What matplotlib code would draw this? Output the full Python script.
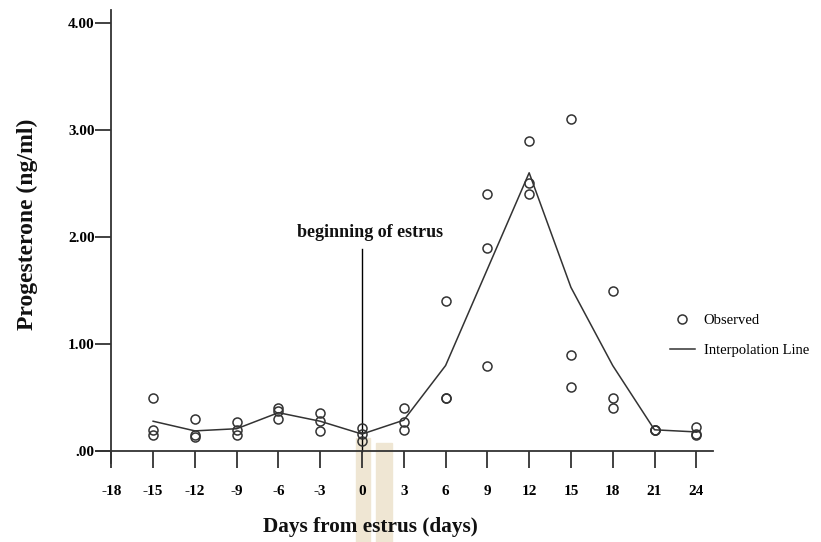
import matplotlib
matplotlib.use("Agg")
import matplotlib.pyplot as plt
from matplotlib.lines import Line2D
from matplotlib.patches import Rectangle

# ---- data ----
days = [-15, -12, -9, -6, -3, 0, 3, 6, 9, 12, 15, 18, 21, 24]
obs_a = [0.50, 0.30, 0.27, 0.40, 0.36, 0.22, 0.40, 1.40, 2.40, 2.90, 3.10, 1.50, 0.20, 0.23]
obs_b = [0.20, 0.15, 0.20, 0.38, 0.28, 0.16, 0.27, 0.50, 1.90, 2.50, 0.90, 0.50, 0.20, 0.15]
obs_c = [0.15, 0.13, 0.15, 0.30, 0.19, 0.10, 0.20, 0.50, 0.80, 2.40, 0.60, 0.40, 0.20, 0.16]
interp = [0.28, 0.19, 0.21, 0.36, 0.28, 0.16, 0.29, 0.80, 1.70, 2.60, 1.53, 0.80, 0.20, 0.18]
x_ticks = [-18, -15, -12, -9, -6, -3, 0, 3, 6, 9, 12, 15, 18, 21, 24]
y_ticks = [0, 1, 2, 3, 4]
y_tick_labels = [".00", "1.00", "2.00", "3.00", "4.00"]
estrus_day = 0
estrus_line_top = 1.89

W, H = 821, 542
fig = plt.figure(figsize=(W / 100, H / 100), dpi=100)
serif = ["Liberation Serif", "DejaVu Serif"]

# watermark-like beige bars (background artefact in the reference)
for x0, x1, y0 in [(356, 370, 438), (376, 392, 443)]:
    fig.patches.append(Rectangle((x0 / W, 0), (x1 - x0) / W, (H - y0) / H,
                                 transform=fig.transFigure, color="#efe6d3",
                                 zorder=-5))

ax = fig.add_axes([96 / W, (H - 463) / H, (713 - 96) / W, (463 - 10) / H])
ax.set_zorder(1)
ax.patch.set_alpha(0)
ax.set_xlim(-19.1, 25.2)
ax.set_ylim(-0.11, 4.12)

for s in ["top", "right"]:
    ax.spines[s].set_visible(False)
ax.spines["left"].set_position(("data", -18))
ax.spines["bottom"].set_position(("data", 0))
for s in ["left", "bottom"]:
    ax.spines[s].set_color("#333333")
    ax.spines[s].set_linewidth(1.3)

ax.set_xticks(x_ticks)
ax.set_xticklabels([str(t) for t in x_ticks])
ax.set_yticks(y_ticks)
ax.set_yticklabels(y_tick_labels)
ax.tick_params(axis="x", direction="out", length=12, width=1.3, color="#333333", pad=12)
ax.tick_params(axis="y", direction="out", length=11.5, width=1.3, color="#333333", pad=0.5)
for lab in ax.get_xticklabels() + ax.get_yticklabels():
    lab.set_fontfamily(serif)
    lab.set_fontweight("bold")
    lab.set_fontsize(11)

# interpolation line
ax.plot(days, interp, color="#333333", lw=1.1, zorder=3)
# observed points
for series in (obs_a, obs_b, obs_c):
    ax.plot(days, series, linestyle="none", marker="o", markersize=6.5,
            markerfacecolor="none", markeredgecolor="#333333", markeredgewidth=1.1,
            zorder=4)

# beginning of estrus marker
ax.plot([estrus_day, estrus_day], [0, estrus_line_top], color="black", lw=1.0, zorder=2)
ax.text(0.55, 2.04, "beginning of estrus", ha="center", va="center",
        fontfamily=serif, fontweight="bold", fontsize=13, color="#111111")

fig.text(27 / W, 1 - 224 / H, "Progesterone (ng/ml)", rotation=90, ha="center",
         va="center", fontfamily=serif, fontweight="bold", fontsize=17, color="#111111")
fig.text(370 / W, 1 - 527 / H, "Days from estrus (days)", ha="center", va="center",
         fontfamily=serif, fontweight="bold", fontsize=15.3, color="#111111")

handles = [
    Line2D([], [], linestyle="none", marker="o", markersize=6.5, markerfacecolor="none",
           markeredgecolor="#333333", markeredgewidth=1.1),
    Line2D([], [], color="#333333", lw=1.1),
]
leg = fig.legend(handles, ["Observed", "Interpolation Line"], loc="upper left",
                 bbox_to_anchor=(670 / W, 1 - 314 / H), frameon=False, borderpad=0,
                 borderaxespad=0, handlelength=1.7, handletextpad=0.6,
                 labelspacing=1.15, prop={"family": serif, "size": 10.5})

fig.savefig("out.png", dpi=100)
